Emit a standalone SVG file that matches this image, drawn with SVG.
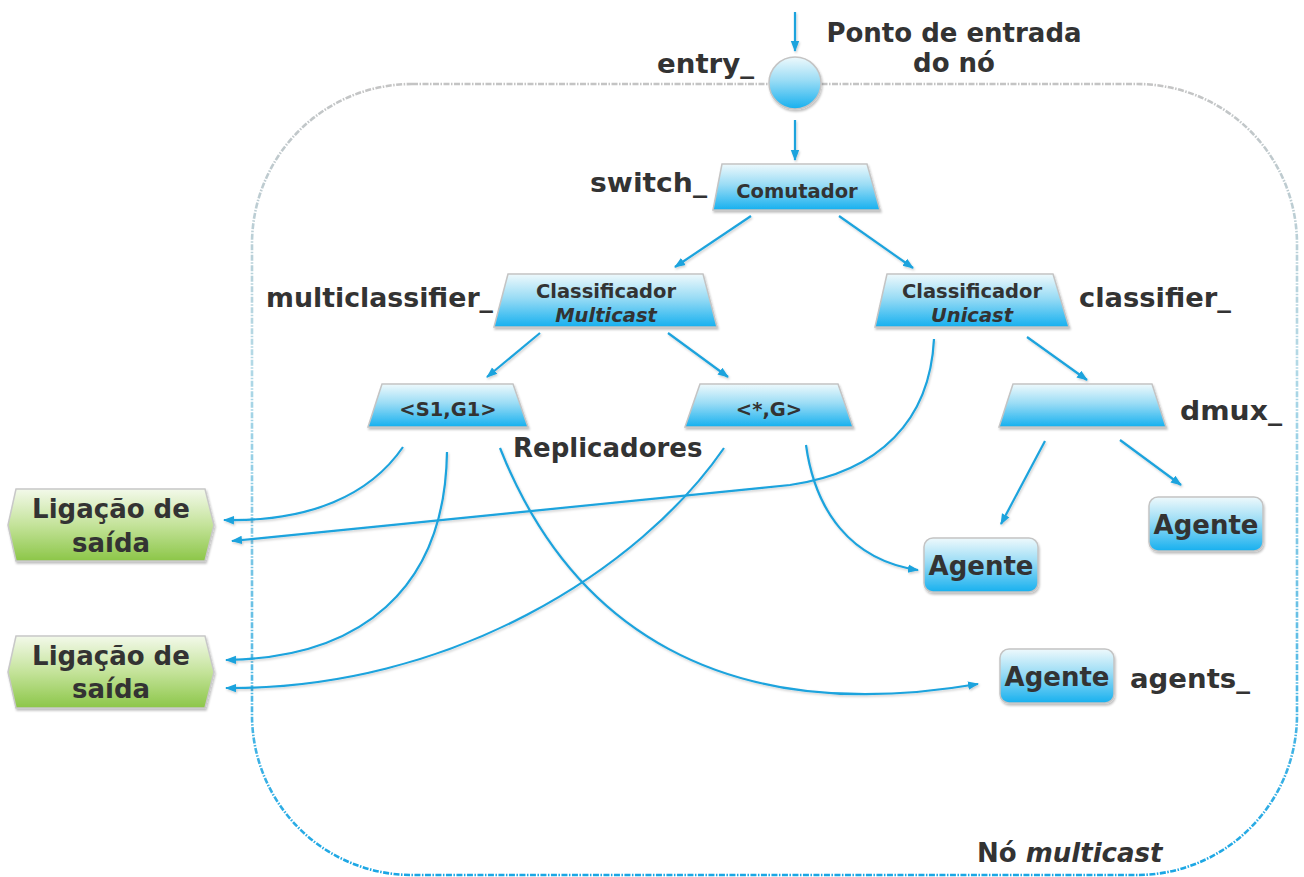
<svg xmlns="http://www.w3.org/2000/svg" width="1304" height="877" viewBox="0 0 1304 877">
  <defs>
    <linearGradient id="blueFill" x1="0" y1="0" x2="0" y2="1">
      <stop offset="0" stop-color="#eef9fc"/>
      <stop offset="0.45" stop-color="#9adcf5"/>
      <stop offset="1" stop-color="#16b0ef"/>
    </linearGradient>
    <linearGradient id="greenFill" x1="0" y1="0" x2="0" y2="1">
      <stop offset="0" stop-color="#f3f9ea"/>
      <stop offset="0.5" stop-color="#c4e39a"/>
      <stop offset="1" stop-color="#8cc648"/>
    </linearGradient>
    <linearGradient id="frameStroke" gradientUnits="userSpaceOnUse" x1="0" y1="84" x2="0" y2="876">
      <stop offset="0" stop-color="#c4c4c4"/>
      <stop offset="0.35" stop-color="#b3d9e6"/>
      <stop offset="1" stop-color="#1aa6e4"/>
    </linearGradient>
    <filter id="shadow" x="-10%" y="-10%" width="120%" height="130%">
      <feDropShadow dx="1" dy="2" stdDeviation="1.2" flood-color="#000" flood-opacity="0.25"/>
    </filter>
    <filter id="lineShadow" x="-5%" y="-5%" width="110%" height="110%">
      <feDropShadow dx="1" dy="1.5" stdDeviation="0.8" flood-color="#000" flood-opacity="0.2"/>
    </filter>
    <marker id="arrow" markerUnits="userSpaceOnUse" markerWidth="12" markerHeight="10" refX="10" refY="5" orient="auto">
      <path d="M0,0.8 L11,5 L0,9.2 Z" fill="#1ba3dd"/>
    </marker>
  </defs>
  <style>
    .lbl { font-family: "DejaVu Sans", Verdana, sans-serif; font-weight: bold; font-size: 26px; fill: #333; }
    .nodeText { font-family: "DejaVu Sans", Verdana, sans-serif; font-weight: bold; font-size: 19.5px; fill: #333; text-anchor: middle; }
    .bigText { font-family: "DejaVu Sans", Verdana, sans-serif; font-weight: bold; font-size: 26px; fill: #333; text-anchor: middle; }
    .blue { fill: url(#blueFill); stroke: #c4c4c4; stroke-width: 1.5; filter: url(#shadow); }
    .green { fill: url(#greenFill); stroke: #c8c8c8; stroke-width: 1.5; filter: url(#shadow); }
    .conn { fill: none; stroke: #1ba3dd; stroke-width: 2.2; marker-end: url(#arrow); }
  </style>

  <!-- node boundary -->
  <g id="node-frame">
    <rect x="252" y="84" width="1045" height="791" rx="160" ry="160" fill="none" stroke="url(#frameStroke)" stroke-width="2.6" stroke-dasharray="6 1.5 1.5 1.5"/>
    <text class="lbl" x="977" y="862">Nó <tspan font-style="italic">multicast</tspan></text>
  </g>

  <!-- connectors -->
  <g id="connectors" filter="url(#lineShadow)">
    <path class="conn" d="M795,12 L795,51"/>
    <path class="conn" d="M795,120 L795,160"/>
    <path class="conn" d="M751,216 L675,267"/>
    <path class="conn" d="M839,216 L913,268"/>
    <path class="conn" d="M540,333 L487,377"/>
    <path class="conn" d="M668,333 L728,377"/>
    <path class="conn" d="M1027,337 L1087,380"/>
    <path class="conn" d="M1045,441 L1001,524"/>
    <path class="conn" d="M1120,440 L1181,485"/>
    <path class="conn" d="M934,339 C930,420 880,472 790,485 L232,541"/>
    <path class="conn" d="M403,447 C370,495 310,522 224,520"/>
    <path class="conn" d="M447,452 C445,590 360,658 226,660"/>
    <path class="conn" d="M500,448 C570,625 720,728 978,684"/>
    <path class="conn" d="M724,448 C640,570 450,690 226,688"/>
    <path class="conn" d="M806,445 C815,510 850,560 918,570"/>
  </g>

  <!-- entry point -->
  <g id="entry">
    <circle class="blue" cx="795" cy="83" r="26"/>
    <text class="lbl" x="657" y="73" textLength="97" lengthAdjust="spacingAndGlyphs">entry_</text>
    <text class="bigText" x="954" y="42">Ponto de entrada</text>
    <text class="bigText" x="954" y="72">do nó</text>
  </g>

  <!-- switch -->
  <g id="switch">
    <polygon class="blue" points="722,164 867,164 880,210 713,210"/>
    <text class="nodeText" x="797" y="198">Comutador</text>
    <text class="lbl" x="590" y="192" textLength="117" lengthAdjust="spacingAndGlyphs">switch_</text>
  </g>

  <!-- multicast classifier -->
  <g id="multiclassifier">
    <polygon class="blue" points="508,274 703,274 717,327 494,327"/>
    <text class="nodeText" x="606" y="298">Classificador</text>
    <text class="nodeText" x="606" y="322" font-style="italic">Multicast</text>
    <text class="lbl" x="266" y="307" textLength="227" lengthAdjust="spacingAndGlyphs">multiclassifier_</text>
  </g>

  <!-- unicast classifier -->
  <g id="classifier">
    <polygon class="blue" points="887,274 1053,274 1069,327 875,327"/>
    <text class="nodeText" x="972" y="298">Classificador</text>
    <text class="nodeText" x="972" y="322" font-style="italic">Unicast</text>
    <text class="lbl" x="1079" y="307" textLength="152" lengthAdjust="spacingAndGlyphs">classifier_</text>
  </g>

  <!-- replicators -->
  <g id="replicator-s1g1">
    <polygon class="blue" points="382,384 513,384 528,427 368,427"/>
    <text class="nodeText" x="448" y="416">&lt;S1,G1&gt;</text>
  </g>
  <g id="replicator-g">
    <polygon class="blue" points="700,384 838,384 853,427 685,427"/>
    <text class="nodeText" x="769" y="416">&lt;*,G&gt;</text>
  </g>
  <g id="replicators-label">
    <text class="lbl" x="513" y="457">Replicadores</text>
  </g>

  <!-- demux -->
  <g id="dmux">
    <polygon class="blue" points="1013,384 1152,384 1166,427 999,427"/>
    <text class="lbl" x="1180" y="420" textLength="102" lengthAdjust="spacingAndGlyphs">dmux_</text>
  </g>

  <!-- agents -->
  <g id="agent-1">
    <rect class="blue" x="924" y="538" width="114" height="54" rx="9"/>
    <text class="bigText" x="981" y="575">Agente</text>
  </g>
  <g id="agent-2">
    <rect class="blue" x="1149" y="497" width="114" height="54" rx="9"/>
    <text class="bigText" x="1206" y="534">Agente</text>
  </g>
  <g id="agent-3">
    <rect class="blue" x="1000" y="649" width="114" height="54" rx="9"/>
    <text class="bigText" x="1057" y="686">Agente</text>
    <text class="lbl" x="1130" y="688" textLength="120" lengthAdjust="spacingAndGlyphs">agents_</text>
  </g>

  <!-- outgoing links -->
  <g id="link-1">
    <polygon class="green" points="16,489 205,489 214,525 205,561 16,561 8,525"/>
    <text class="bigText" x="111" y="518">Ligação de</text>
    <text class="bigText" x="111" y="552">saída</text>
  </g>
  <g id="link-2">
    <polygon class="green" points="16,636 205,636 214,672 205,708 16,708 8,672"/>
    <text class="bigText" x="111" y="665">Ligação de</text>
    <text class="bigText" x="111" y="698">saída</text>
  </g>
</svg>
